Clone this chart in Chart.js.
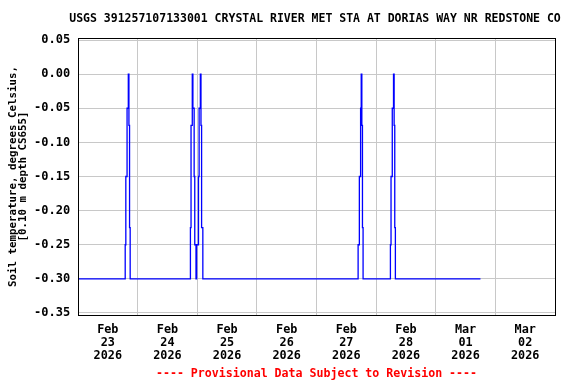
<!DOCTYPE html>
<html><head><meta charset="utf-8">
<script src="https://cdn.jsdelivr.net/npm/chart.js@4"></script>
<style>html,body{margin:0;padding:0;background:#fff;} #wrap{width:576px;height:384px;}</style>
</head><body><div id="wrap"><canvas id="c" width="576" height="384"></canvas></div>
<script>
const chartTitle = "USGS 391257107133001 CRYSTAL RIVER MET STA AT DORIAS WAY NR REDSTONE CO";
const footerText = "---- Provisional Data Subject to Revision ----";
const yAxisTitle = ["Soil temperature, degrees Celsius,", "[0.10 m depth CS655]"];
const startTime = "2026-02-23T00:00";
const endTime = "2026-03-03T00:00";

// readings (value holds from its time until the next reading)
const times = [
  "2026-02-23T00:00","2026-02-23T19:00","2026-02-23T19:15","2026-02-23T19:45","2026-02-23T20:15",
  "2026-02-23T20:30","2026-02-23T20:45","2026-02-23T21:00",
  "2026-02-24T21:15","2026-02-24T21:30","2026-02-24T22:00","2026-02-24T22:15","2026-02-24T22:45",
  "2026-02-24T23:00","2026-02-24T23:30","2026-02-24T23:45",
  "2026-02-25T00:30","2026-02-25T00:45","2026-02-25T01:15","2026-02-25T01:30","2026-02-25T01:45","2026-02-25T02:15",
  "2026-02-27T16:45","2026-02-27T17:15","2026-02-27T17:45","2026-02-27T18:00","2026-02-27T18:15",
  "2026-02-27T18:30","2026-02-27T18:45",
  "2026-02-28T05:45","2026-02-28T06:00","2026-02-28T06:30","2026-02-28T07:00","2026-02-28T07:15",
  "2026-02-28T07:30","2026-02-28T07:45",
  "2026-03-01T18:00"
];
const temps = [
  -0.30,-0.25,-0.15,-0.05,0.00,
  -0.075,-0.225,-0.30,
  -0.225,-0.075,0.00,-0.05,-0.15,
  -0.25,-0.30,-0.25,
  -0.15,-0.05,0.00,-0.075,-0.225,-0.30,
  -0.25,-0.15,-0.05,0.00,-0.075,
  -0.225,-0.30,
  -0.25,-0.15,-0.05,0.00,-0.075,
  -0.225,-0.30,
  -0.30
];

const yTicks = [0.05, 0.00, -0.05, -0.10, -0.15, -0.20, -0.25, -0.30, -0.35];
const yMin = -0.353, yMax = 0.053;
const xTickTimes = ["2026-02-23T12:00","2026-02-24T12:00","2026-02-25T12:00","2026-02-26T12:00",
                    "2026-02-27T12:00","2026-02-28T12:00","2026-03-01T12:00","2026-03-02T12:00"];
const xTickLabels = [["Feb","23","2026"],["Feb","24","2026"],["Feb","25","2026"],["Feb","26","2026"],
                     ["Feb","27","2026"],["Feb","28","2026"],["Mar","01","2026"],["Mar","02","2026"]];

const t0 = Date.parse(startTime);
const hrs = t => (Date.parse(t) - t0) / 3600000;
const points = times.map((t, i) => ({x: hrs(t), y: temps[i]}));
const xTickValues = xTickTimes.map(hrs);

const FONT = "'DejaVu Sans Mono', monospace";

const boxPlugin = {
  id: 'box',
  afterDraw(chart) {
    const {ctx, chartArea: a} = chart;
    ctx.save();
    ctx.strokeStyle = '#000';
    ctx.lineWidth = 1;
    ctx.strokeRect(Math.floor(a.left) + 0.5, Math.floor(a.top) + 0.5,
                   Math.round(a.right - a.left), Math.round(a.bottom - a.top));
    ctx.restore();
  }
};

new Chart(document.getElementById('c'), {
  type: 'line',
  data: {
    datasets: [{
      data: points,
      borderColor: '#0000ff',
      borderWidth: 1.3,
      pointRadius: 0,
      stepped: true,
      fill: false,
      tension: 0
    }]
  },
  options: {
    responsive: false,
    animation: false,
    devicePixelRatio: 1,
    layout: {padding: {left: 54, right: 0, top: 0, bottom: 0}},
    plugins: {
      legend: {display: false},
      tooltip: {enabled: false},
      title: {
        display: true, text: chartTitle, fullSize: true, color: '#000',
        font: {family: FONT, size: 11.5, weight: 'bold', lineHeight: '14px'},
        padding: {top: 12, bottom: 12}
      },
      subtitle: {
        display: true, text: footerText, position: 'bottom', fullSize: false, color: '#ff0000',
        font: {family: FONT, size: 11.6, weight: 'bold', lineHeight: '14px'},
        padding: {top: 3, bottom: 3}
      }
    },
    scales: {
      x: {
        type: 'linear',
        min: 0, max: hrs(endTime),
        offset: false,
        afterBuildTicks: s => { s.ticks = xTickValues.map(v => ({value: v})); },
        afterFit: s => { s.height = 49; },
        grid: {color: '#c8c8c8', lineWidth: 1, drawTicks: false, offset: true},
        border: {display: false},
        ticks: {
          autoSkip: false, maxRotation: 0, minRotation: 0, padding: 8.5, color: '#000',
          font: {family: FONT, size: 11.8, weight: 'bold', lineHeight: '13px'},
          callback: (v, i) => xTickLabels[i]
        }
      },
      y: {
        type: 'linear',
        min: yMin, max: yMax,
        afterBuildTicks: s => { s.ticks = yTicks.map(v => ({value: v})); },
        afterFit: s => { s.width = 24; },
        grid: {color: '#c8c8c8', lineWidth: 1, drawTicks: false},
        border: {display: false},
        ticks: {
          mirror: true, padding: -44, color: '#000',
          font: {family: FONT, size: 12, weight: 'bold'},
          callback: v => v.toFixed(2).padStart(5, ' ')
        },
        title: {
          display: true, text: yAxisTitle, color: '#000',
          font: {family: FONT, size: 10.8, weight: 'bold', lineHeight: '10px'},
          padding: {top: -46, bottom: 0}
        }
      },
      yRight: {
        type: 'linear',
        position: 'right',
        afterFit: s => { s.width = 21; },
        grid: {display: false},
        border: {display: false},
        ticks: {display: false}
      }
    }
  },
  plugins: [boxPlugin]
});
</script>
</body></html>
